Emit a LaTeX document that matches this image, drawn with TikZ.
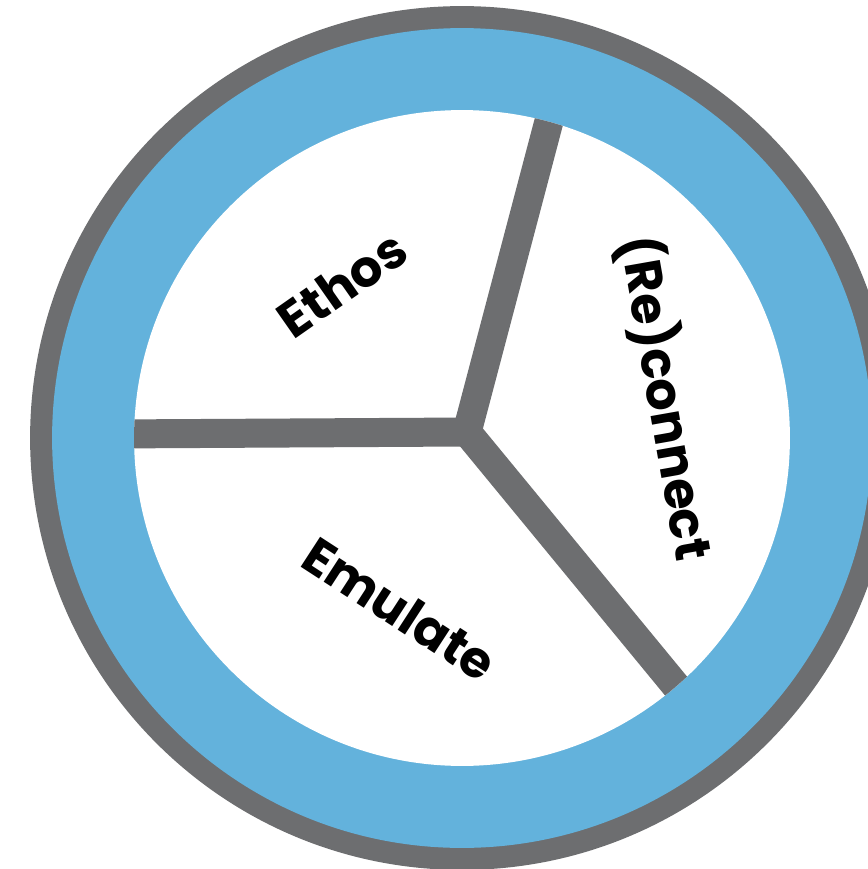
\documentclass[tikz,border=0pt]{standalone}
\usepackage{fontspec}
\setmainfont{Poppins}
\definecolor{ringgray}{HTML}{6D6E70}
\definecolor{ringblue}{HTML}{63B2DC}

\begin{document}
\begin{tikzpicture}[x=0.02cm,y=-0.02cm,
    spoke/.style={draw=ringgray,line width=0.58cm,line cap=round,line join=round},
    every node/.style={font=\bfseries\fontsize{29}{32}\selectfont}]
  \useasboundingbox (0,0) rectangle (868,869);
  \clip (0,0) rectangle (868,869);
  \coordinate (O) at (462,438);
  \coordinate (J) at (467,432);
  % rings
  \fill[ringgray] (O) circle (8.64cm);
  \fill[ringblue] (O) circle (8.20cm);
  \fill[white] (O) circle (6.56cm);
  % spokes
  \begin{scope}
    \clip (O) circle (6.56cm);
    \coordinate (L) at (110,434);
    \coordinate (T) at (553,106);
    \coordinate (B) at (690,703);
    \draw[spoke] (L) -- (J) -- (T);
    \draw[spoke] (J) -- (B);
  \end{scope}
  % labels
  \node[rotate=35] (ethos) at (342,284) {Ethos};
  \node[rotate=-80] (reconnect) at (666,398) {(Re)connect};
  \node[rotate=-33] (emulate) at (400,609) {Emulate};
\end{tikzpicture}
\end{document}
